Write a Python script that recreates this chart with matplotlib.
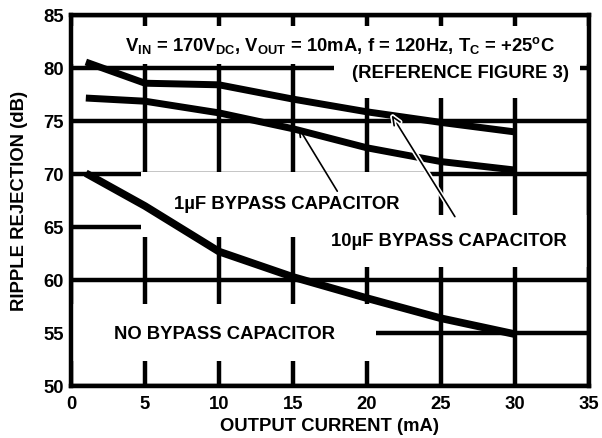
import matplotlib
matplotlib.use('Agg')
import matplotlib.pyplot as plt
import matplotlib.patheffects as pe
from matplotlib.patches import Rectangle

plt.rcParams['font.family'] = ['Liberation Sans', 'DejaVu Sans']
plt.rcParams['font.weight'] = 'bold'
plt.rcParams['mathtext.fontset'] = 'custom'
plt.rcParams['mathtext.rm'] = 'Liberation Sans:bold'
plt.rcParams['mathtext.bf'] = 'Liberation Sans:bold'

# Output current (mA) and ripple rejection (dB)
cur_10uf = [1, 5, 10, 15, 20, 25, 30]
rej_10uf = [80.6, 78.6, 78.45, 77.1, 75.9, 74.9, 74.0]

cur_1uf = [1, 5, 10, 15, 20, 25, 30]
rej_1uf = [77.2, 76.9, 75.8, 74.3, 72.5, 71.2, 70.4]

cur_none = [1, 5, 10, 15, 20, 25, 30]
rej_none = [70.1, 67.0, 62.7, 60.3, 58.3, 56.4, 54.9]

x_ticks = [0, 5, 10, 15, 20, 25, 30, 35]
y_ticks = [50, 55, 60, 65, 70, 75, 80, 85]

header = (r'V$_{\rm IN}$ = 170V$_{\rm DC}$, V$_{\rm OUT}$ = 10mA, f = 120Hz, '
          r'T$_{\rm C}$ = +25$^{\rm o}$C')

fs = 13.3

fig = plt.figure(figsize=(6.02, 4.38), dpi=100)
ax = fig.add_axes([0.118, 0.1187, 0.86, 0.846])

ax.set_xlim(0, 35)
ax.set_ylim(50, 85)
ax.set_xticks(x_ticks)
ax.set_yticks(y_ticks)
ax.tick_params(length=0, labelsize=fs)
ax.tick_params(axis='x', pad=7)
ax.tick_params(axis='y', pad=5)
for lbl in ax.get_xticklabels() + ax.get_yticklabels():
    lbl.set_fontweight('bold')

ax.set_axisbelow(True)
ax.grid(True, color='black', linewidth=3.2, solid_capstyle='butt')
for sp in ax.spines.values():
    sp.set_linewidth(3.2)
    sp.set_zorder(6)

# white blocks behind the labels (they break the grid like in the datasheet)
masks = [
    (0, 80.42, 35, 84.0),
    (17.8, 77.2, 34.4, 80.42),
    (4.7, 64.07, 24.1, 70.26),
    (16.8, 61.25, 35, 66.18),
    (0, 52.4, 20.6, 57.7),
]
for x0, y0, x1, y1 in masks:
    ax.add_patch(Rectangle((x0, y0), x1 - x0, y1 - y0, facecolor='white',
                           edgecolor='none', zorder=2))

ax.plot(cur_10uf, rej_10uf, color='black', linewidth=5, solid_capstyle='butt', zorder=3)
ax.plot(cur_1uf, rej_1uf, color='black', linewidth=5, solid_capstyle='butt', zorder=3)
ax.plot(cur_none, rej_none, color='black', linewidth=5.5, solid_capstyle='butt', zorder=3)

ax.text(18.2, 82.2, header, fontsize=fs, fontweight='bold', ha='center', va='center', zorder=4)
ax.text(26.3, 79.5, '(REFERENCE FIGURE 3)', fontsize=fs, fontweight='bold',
        ha='center', va='center', zorder=4)
ax.text(14.56, 67.1, '1\u00b5F BYPASS CAPACITOR', fontsize=fs, fontweight='bold',
        ha='center', va='center', zorder=4)
ax.text(25.54, 63.66, '10\u00b5F BYPASS CAPACITOR', fontsize=fs, fontweight='bold',
        ha='center', va='center', zorder=4)
ax.text(10.4, 54.9, 'NO BYPASS CAPACITOR', fontsize=fs, fontweight='bold',
        ha='center', va='center', zorder=4)

arrow_style = dict(arrowstyle='->,head_length=0.6,head_width=0.25', color='black', lw=1.2,
                   shrinkA=0, shrinkB=0)
ax.annotate('', xy=(15.34, 74.5), xytext=(18.0, 68.4), arrowprops=arrow_style, zorder=5)
a2 = ax.annotate('', xy=(21.67, 75.6), xytext=(25.95, 66.0), arrowprops=arrow_style, zorder=5)
a2.arrow_patch.set_path_effects([pe.withStroke(linewidth=3.5, foreground='white')])

ax.set_xlabel('OUTPUT CURRENT (mA)', fontsize=fs, fontweight='bold', labelpad=4)
ax.set_ylabel('RIPPLE REJECTION (dB)', fontsize=fs, fontweight='bold', labelpad=11)

fig.savefig('out.png', dpi=100)
